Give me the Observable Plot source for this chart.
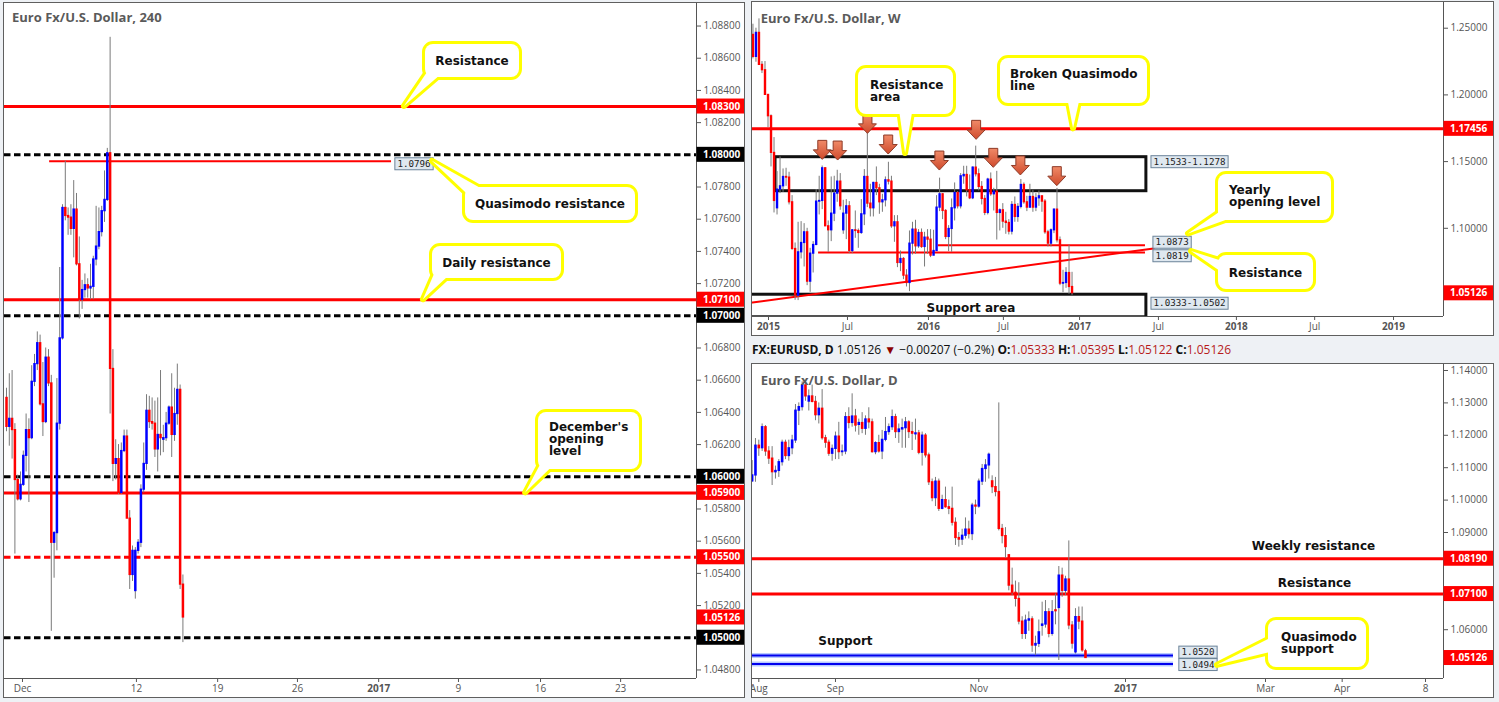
<!DOCTYPE html>
<html>
<head>
<meta charset="utf-8">
<script src="https://cdn.jsdelivr.net/npm/d3@7"></script>
<script src="https://cdn.jsdelivr.net/npm/@observablehq/plot@0.6"></script>
<style>
html,body{margin:0;padding:0;}
body{width:1499px;height:702px;background:#eef1f5;position:relative;overflow:hidden;font-family:'Open Sans',sans-serif;}
.panel{position:absolute;background:#fff;border:1px solid #5f5f5f;overflow:hidden;}
.panel svg{display:block;}
#hdr{position:absolute;left:752px;top:340px;font-size:12px;font-family:'Open Sans',sans-serif;color:#111;white-space:pre;line-height:20px}
#hdr b{font-weight:700}
#hdr .v{color:#b71c1c}
#hdr .dn{color:#8b0000}
</style>
</head>
<body>
<div id="p1" class="panel" style="left:3px;top:2px;width:740px;height:694px"></div>
<div id="p2" class="panel" style="left:751px;top:1px;width:741px;height:333px"></div>
<div id="hdr"></div>
<div id="p3" class="panel" style="left:751px;top:363px;width:741px;height:333px"></div>
<script>
// ===================== DATA =====================
// ---- 4H panel (bar index 0..63, Nov 30 – Dec 15 2016)
const h4Open=[1.0649,1.0631,1.0636,1.0629,1.0598,1.0586,1.0595,1.0613,1.0629,1.0624,
1.0659,1.0670,1.0683,1.0645,1.0634,1.0674,1.0658,1.0559,1.0565,1.0633,
1.0686,1.0767,1.0762,1.0761,1.0754,1.0766,1.0732,1.0710,1.0716,1.0719,
1.0717,1.0718,1.0735,1.0743,1.0752,1.0765,1.0772,1.0801,1.0667,1.0608,
1.0611,1.0590,1.0616,1.0625,1.0574,1.0539,1.0529,1.0554,1.0559,1.0592,
1.0608,1.0641,1.0634,1.0633,1.0617,1.0626,1.0623,1.0624,1.0633,1.0643,
1.0626,1.0639,1.0654,1.0533];
const h4High=[1.0655,1.0664,1.0666,1.0633,1.0601,1.0603,1.0616,1.0639,1.0636,1.0669,
1.0676,1.0690,1.0688,1.0671,1.0680,1.0679,1.0663,1.0566,1.0661,1.0730,
1.0769,1.0796,1.0767,1.0769,1.0784,1.0776,1.0749,1.0722,1.0726,1.0723,
1.0732,1.0737,1.0768,1.0767,1.0768,1.0790,1.0804,1.0873,1.0679,1.0623,
1.0620,1.0621,1.0629,1.0629,1.0579,1.0557,1.0556,1.0561,1.0595,1.0621,
1.0651,1.0650,1.0649,1.0647,1.0649,1.0666,1.0632,1.0640,1.0644,1.0664,
1.0655,1.0670,1.0657,1.0539];
const h4Low=[1.0628,1.0619,1.0611,1.0552,1.0585,1.0585,1.0594,1.0603,1.0584,1.0623,
1.0656,1.0666,1.0644,1.0625,1.0633,1.0656,1.0504,1.0537,1.0554,1.0629,
1.0685,1.0759,1.0750,1.0750,1.0736,1.0731,1.0698,1.0704,1.0711,1.0711,
1.0710,1.0710,1.0731,1.0741,1.0749,1.0758,1.0771,1.0639,1.0597,1.0598,
1.0589,1.0589,1.0615,1.0574,1.0530,1.0535,1.0524,1.0552,1.0556,1.0590,
1.0604,1.0630,1.0629,1.0612,1.0603,1.0613,1.0615,1.0622,1.0632,1.0612,
1.0622,1.0632,1.0530,1.0497];
const h4Close=[1.0631,1.0636,1.0629,1.0598,1.0586,1.0595,1.0613,1.0629,1.0624,1.0659,
1.0670,1.0683,1.0645,1.0634,1.0674,1.0658,1.0559,1.0565,1.0633,1.0686,
1.0767,1.0762,1.0761,1.0754,1.0766,1.0732,1.0710,1.0716,1.0719,1.0717,
1.0718,1.0735,1.0743,1.0752,1.0765,1.0772,1.0801,1.0667,1.0608,1.0611,
1.0590,1.0616,1.0625,1.0574,1.0539,1.0554,1.0554,1.0559,1.0592,1.0608,
1.0641,1.0634,1.0633,1.0617,1.0626,1.0624,1.0624,1.0633,1.0643,1.0626,
1.0639,1.0654,1.0533,1.05126];
const h4TickPos=[5.71,46.4,75.4,103.9,132.9,161.4,190.7,219.3];
const h4TickLabels=["Dec","12","19","26","2017","9","16","23"];
const h4YTicks=[1.048,1.052,1.054,1.056,1.058,1.062,1.064,1.066,1.068,1.072,1.074,1.076,1.078,1.082,1.084,1.086,1.088];
const h4RedLevels=[1.083,1.071,1.059];
const h4RedDashed=[1.055];
const h4BlackDashed=[1.080,1.070,1.060,1.050];
const h4QM=[{y:1.0796,x1:15.4,x2:137.5}];
const h4RedTags=[1.083,1.071,1.059,1.055,1.05126];
const h4BlackTags=[1.080,1.070,1.060,1.050];

// ---- Weekly panel (week index -5..101; 0 = first week of 2015)
const wkOpen=[1.2450,1.2285,1.2465,1.2225,1.2185,1.2000,1.1840,1.1565,1.1150,1.1290,
1.1315,1.1385,1.1380,1.1195,1.0845,1.0495,1.0820,1.0890,1.0970,1.0600,
1.0810,1.0875,1.1200,1.1205,1.1450,1.1015,1.0985,1.1110,1.1260,1.1350,
1.0985,1.1110,1.1165,1.0830,1.0985,1.0980,1.0965,1.1105,1.1385,1.1185,
1.1150,1.1340,1.1300,1.1195,1.1210,1.1360,1.1350,1.1015,1.1045,1.0740,
1.0770,1.0645,1.0590,1.0885,1.0990,1.0865,1.0965,1.0860,1.0930,1.0915,
1.0795,1.0830,1.1155,1.1255,1.1130,1.0935,1.0995,1.1150,1.1265,1.1165,
1.1390,1.1400,1.1285,1.1225,1.1455,1.1405,1.1310,1.1220,1.1115,1.1365,
1.1255,1.1275,1.1115,1.1135,1.1050,1.1040,1.0975,1.1175,1.1085,1.1160,
1.1325,1.1195,1.1155,1.1235,1.1155,1.1225,1.1240,1.1200,1.0970,1.0885,
1.0985,1.1140,1.0910,1.0585,1.0590,1.0665,1.0560];
const wkHigh=[1.2530,1.2500,1.2570,1.2250,1.2250,1.2000,1.1850,1.1680,1.1425,1.1535,
1.1445,1.1450,1.1420,1.1245,1.0890,1.1045,1.1050,1.1035,1.1000,1.0850,
1.0900,1.1290,1.1390,1.1467,1.1455,1.1055,1.1385,1.1390,1.1435,1.1410,
1.1210,1.1215,1.1200,1.0990,1.1130,1.0995,1.1215,1.1440,1.1714,1.1330,
1.1345,1.1460,1.1330,1.1255,1.1385,1.1495,1.1390,1.1095,1.1095,1.0830,
1.0780,1.0690,1.0980,1.1045,1.1060,1.0990,1.0995,1.0970,1.0990,1.0990,
1.0985,1.1245,1.1376,1.1260,1.1140,1.1020,1.1220,1.1340,1.1275,1.1410,
1.1465,1.1465,1.1400,1.1460,1.1616,1.1445,1.1350,1.1245,1.1375,1.1415,
1.1300,1.1427,1.1145,1.1185,1.1120,1.1065,1.1200,1.1235,1.1185,1.1366,
1.1340,1.1240,1.1330,1.1285,1.1260,1.1280,1.1240,1.1215,1.0985,1.0995,
1.1145,1.1299,1.0935,1.0685,1.0705,1.0874,1.0670];
const wkLow=[1.2270,1.2245,1.2220,1.2160,1.2000,1.1755,1.1460,1.1115,1.1100,1.1260,
1.1270,1.1315,1.1175,1.0835,1.0460,1.0458,1.0770,1.0710,1.0570,1.0520,
1.0665,1.0870,1.1100,1.1140,1.1015,1.0820,1.0900,1.1050,1.1195,1.1135,
1.0955,1.0915,1.0810,1.0810,1.0925,1.0850,1.0955,1.1020,1.1155,1.1085,
1.1085,1.1245,1.1105,1.1120,1.1160,1.1325,1.1000,1.0895,1.0705,1.0675,
1.0615,1.0560,1.0525,1.0800,1.0805,1.0850,1.0850,1.0710,1.0805,1.0780,
1.0795,1.0830,1.1125,1.1065,1.0915,1.0825,1.0820,1.1055,1.1145,1.1145,
1.1330,1.1235,1.1215,1.1215,1.1385,1.1280,1.1175,1.1095,1.1100,1.1240,
1.1130,1.0912,1.0980,1.1000,1.0955,1.0950,1.0950,1.1045,1.1045,1.1145,
1.1180,1.1125,1.1150,1.1120,1.1125,1.1165,1.1120,1.0955,1.0860,1.0860,
1.0960,1.0890,1.0570,1.0518,1.0550,1.0505,1.0497];
const wkClose=[1.2285,1.2465,1.2225,1.2185,1.2000,1.1840,1.1565,1.1205,1.1290,1.1315,
1.1385,1.1380,1.1195,1.0845,1.0495,1.0820,1.0890,1.0970,1.0600,1.0810,
1.0875,1.1200,1.1205,1.1450,1.1015,1.0985,1.1110,1.1260,1.1350,1.1165,
1.1110,1.1165,1.0830,1.0985,1.0980,1.0965,1.1105,1.1385,1.1185,1.1150,
1.1340,1.1300,1.1195,1.1210,1.1360,1.1350,1.1015,1.1045,1.0740,1.0770,
1.0645,1.0590,1.0885,1.0990,1.0865,1.0965,1.0860,1.0930,1.0915,1.0795,
1.0830,1.1155,1.1255,1.1130,1.0935,1.0995,1.1150,1.1265,1.1165,1.1390,
1.1400,1.1285,1.1225,1.1455,1.1405,1.1310,1.1220,1.1115,1.1365,1.1255,
1.1275,1.1115,1.1135,1.1050,1.1040,1.0975,1.1175,1.1085,1.1160,1.1325,
1.1195,1.1155,1.1235,1.1155,1.1225,1.1240,1.1200,1.0970,1.0885,1.0985,
1.1140,1.0910,1.0585,1.0590,1.0665,1.0560,1.0513];
const wkFirstIndex=-5;
const wkTickPos=[0.17,26.4,53.3,78.2,103.5,129.7,155.6,181.6,207.8];
const wkTickLabels=["2015","Jul","2016","Jul","2017","Jul","2018","Jul","2019"];
const wkYTicks=[1.10,1.15,1.20,1.25];
const wkBrokenQM=[1.17456];
const wkResZone=[{x1:2.5,x2:125.7,y1:1.1278,y2:1.1533}];
const wkSupZone=[{x1:-8,x2:125.7,y1:1.0333,y2:1.0502}];
const wkShortLevels=[{y:1.0873,x1:56.6,x2:125.4},{y:1.0819,x1:16.8,x2:125.4}];
const wkTrend=[{x:-5.15,y:1.0444},{x:128.1,y:1.0849}];
const wkArrowWeeks=[18.2,23.3,33.2,40.1,57.1,69.3,75.0,84.0,96.1];
const wkArrowPrices=[1.1513,1.1508,1.1708,1.1553,1.1433,1.1663,1.1453,1.1396,1.1316];
const wkRedTags=[1.17456,1.05126];

// ---- Daily panel (trading-day index -2..98; 0 = Aug 1 2016)
const dOpen=[1.1058,1.1076,1.1168,1.1160,1.1225,1.1150,1.1128,1.1086,1.1090,1.1117,
1.1177,1.1136,1.1160,1.1184,1.1276,1.1287,1.1354,1.1304,1.1320,1.1303,
1.1262,1.1282,1.1191,1.1177,1.1143,1.1158,1.1196,1.1148,1.1150,1.1256,
1.1238,1.1258,1.1232,1.1238,1.1220,1.1249,1.1240,1.1148,1.1176,1.1150,
1.1186,1.1210,1.1225,1.1256,1.1210,1.1218,1.1222,1.1240,1.1210,1.1203,
1.1206,1.1146,1.1199,1.1138,1.1055,1.1006,1.1057,1.0973,1.1000,1.0978,
1.0973,1.0930,1.0883,1.0878,1.0890,1.0909,1.0895,1.0983,1.0980,1.1057,
1.1096,1.1107,1.1058,1.1040,1.1025,1.0911,1.0889,1.0830,1.0736,1.0714,
1.0695,1.0625,1.0587,1.0628,1.0632,1.0551,1.0556,1.0612,1.0616,1.0654,
1.0587,1.0660,1.0667,1.0767,1.0720,1.0755,1.0613,1.0530,1.0639,1.0625,
1.05333];
const dHigh=[1.1122,1.1190,1.1185,1.1235,1.1230,1.1165,1.1165,1.1105,1.1125,1.1185,
1.1185,1.1185,1.1200,1.1295,1.1300,1.1365,1.1366,1.1340,1.1355,1.1320,
1.1300,1.1341,1.1200,1.1185,1.1170,1.1210,1.1240,1.1170,1.1270,1.1285,
1.1328,1.1280,1.1250,1.1270,1.1260,1.1285,1.1250,1.1180,1.1200,1.1215,
1.1255,1.1235,1.1278,1.1265,1.1235,1.1250,1.1255,1.1245,1.1240,1.1250,
1.1215,1.1210,1.1205,1.1145,1.1065,1.1070,1.1065,1.1015,1.1040,1.1000,
1.1040,1.0945,1.0900,1.0910,1.0945,1.0935,1.0990,1.1000,1.1065,1.1110,
1.1125,1.1145,1.1075,1.1070,1.1300,1.0925,1.0915,1.0830,1.0790,1.0750,
1.0745,1.0640,1.0645,1.0655,1.0640,1.0580,1.0630,1.0685,1.0690,1.0665,
1.0690,1.0710,1.0795,1.0790,1.0765,1.0874,1.0625,1.0665,1.0670,1.0670,
1.05395];
const dLow=[1.1055,1.1055,1.1135,1.1150,1.1135,1.1110,1.1045,1.1065,1.1070,1.1105,
1.1125,1.1120,1.1140,1.1175,1.1230,1.1275,1.1305,1.1275,1.1300,1.1245,
1.1235,1.1185,1.1160,1.1135,1.1120,1.1125,1.1125,1.1135,1.1140,1.1220,
1.1225,1.1210,1.1200,1.1205,1.1200,1.1220,1.1145,1.1140,1.1145,1.1125,
1.1180,1.1200,1.1215,1.1190,1.1175,1.1160,1.1160,1.1190,1.1153,1.1185,
1.1140,1.1105,1.1130,1.1045,1.0995,1.0980,1.0965,1.0970,1.0975,1.0955,
1.0920,1.0860,1.0855,1.0860,1.0880,1.0880,1.0875,1.0955,1.0975,1.1045,
1.1055,1.1065,1.1020,1.1010,1.0905,1.0865,1.0820,1.0720,1.0705,1.0670,
1.0615,1.0570,1.0570,1.0595,1.0530,1.0520,1.0545,1.0580,1.0605,1.0575,
1.0580,1.0615,1.0505,1.0700,1.0705,1.0600,1.0540,1.0525,1.0600,1.0530,
1.05122];
const dClose=[1.1076,1.1168,1.1160,1.1225,1.1150,1.1128,1.1086,1.1090,1.1117,1.1177,
1.1136,1.1160,1.1184,1.1276,1.1287,1.1354,1.1320,1.1320,1.1303,1.1262,
1.1282,1.1191,1.1177,1.1143,1.1158,1.1196,1.1148,1.1150,1.1256,1.1238,
1.1258,1.1230,1.1238,1.1220,1.1249,1.1240,1.1148,1.1176,1.1150,1.1186,
1.1210,1.1225,1.1256,1.1210,1.1218,1.1222,1.1240,1.1210,1.1205,1.1206,
1.1146,1.1199,1.1138,1.1055,1.1006,1.1057,1.0973,1.1000,1.0978,1.0973,
1.0930,1.0883,1.0878,1.0890,1.0909,1.0895,1.0983,1.0980,1.1057,1.1096,
1.1107,1.1140,1.1040,1.1025,1.0911,1.0889,1.0855,1.0736,1.0714,1.0695,
1.0625,1.0587,1.0628,1.0632,1.0551,1.0556,1.0592,1.0616,1.0654,1.0587,
1.0654,1.0657,1.0767,1.0720,1.0755,1.0613,1.0557,1.0639,1.0625,1.0536,
1.05126];
const dFirstIndex=-2;
const dTickPos=[0,23,66,110,152,175,200];
const dTickLabels=["Aug","Sep","Nov","2017","Mar","Apr","8"];
const dYTicks=[1.06,1.09,1.10,1.11,1.12,1.13,1.14];
const dRedLevels=[1.0819,1.071];
const dBlueLevels=[{y:1.0520,x1:-8,x2:124.4},{y:1.0494,x1:-8,x2:124.4}];
const dRedTags=[1.0819,1.071,1.05126];

// header values
const hdrSymbol="FX:EURUSD, D", hdrLast="1.05126", hdrChg="\u22120.00207 (\u22120.2%)";
const hdrOHLC=[["O:","1.05333"],["H:","1.05395"],["L:","1.05122"],["C:","1.05126"]];

// ===================== HELPERS =====================
const fmt5=d3.format(".5f");
const calloutFont="'DejaVu Sans', Verdana, sans-serif";
function candles(O,H,L,C,first){return O.map((o,i)=>({x:i+first,o,h:H[i],l:L[i],c:C[i]}));}

function panel(el,cfg){
  const lab=new Map(cfg.xTickPos.map((p,i)=>[p,cfg.xTickLab[i]]));
  const data=cfg.data;
  const up=data.filter(d=>d.c>=d.o), dn=data.filter(d=>d.c<d.o);
  const plot=Plot.plot({
    width:cfg.width,height:cfg.height,
    marginLeft:0,marginTop:0,marginRight:cfg.mr,marginBottom:cfg.mb,
    style:{fontFamily:"'Open Sans', sans-serif",fontSize:"10px",color:"#555",background:"#fff"},
    x:{domain:cfg.xDomain,axis:"bottom",ticks:cfg.xTickPos,tickFormat:d=>lab.has(d)?lab.get(d):"",tickSize:4,tickPadding:2,label:null},
    y:{domain:cfg.yDomain,axis:"right",ticks:cfg.yTicks,tickFormat:fmt5,tickSize:4,tickPadding:3,label:null},
    marks:[
      ...(cfg.under||[]),
      Plot.ruleX(data,{x:"x",y1:"l",y2:"h",stroke:"#7a7a7a",strokeWidth:1,clip:true}),
      Plot.ruleX(up,{x:"x",y1:"c",y2:"o",stroke:"#0000ff",strokeWidth:cfg.bw,insetTop:-0.6,insetBottom:-0.6,clip:true}),
      Plot.ruleX(dn,{x:"x",y1:"o",y2:"c",stroke:"#ff0000",strokeWidth:cfg.bw,insetTop:-0.6,insetBottom:-0.6,clip:true}),
      ...(cfg.over||[]),
      Plot.ruleX([cfg.xDomain[1]],{stroke:"#555",strokeWidth:1}),
      Plot.ruleY([cfg.yDomain[0]],{stroke:"#555",strokeWidth:1})
    ]
  });
  el.appendChild(plot);
  const svg=d3.select(plot);
  svg.selectAll("text").filter(function(){return /^\d{4}$/.test(this.textContent);}).attr("font-weight","bold");
  return plot;
}

function tags(plot,cfg,list,color){
  const sy=plot.scale("y").apply, svg=d3.select(plot);
  const x0=cfg.width-cfg.mr;
  list.forEach(p=>{
    const y=sy(p);
    svg.append("rect").attr("x",x0+0.5).attr("y",y-7.5).attr("width",cfg.mr).attr("height",15).attr("fill",color);
    svg.append("text").attr("x",x0+7).attr("y",y).attr("dy","0.36em").attr("fill","#fff").attr("text-anchor","start")
      .attr("font-weight","bold").attr("font-size","10px").attr("font-family","'Open Sans', sans-serif").text(fmt5(p));
  });
}

function title(plot,txt,x,y){
  d3.select(plot).append("text").attr("x",x).attr("y",y).attr("fill","#5a5a5a").attr("text-anchor","start")
    .attr("font-family","'Open Sans', sans-serif").attr("font-weight","bold").attr("font-size","13px").text(txt);
}

function valBox(plot,b){
  const sx=plot.scale("x").apply, sy=plot.scale("y").apply, svg=d3.select(plot);
  const w=b.text.length*5.55+5, h=12, cx=sx(b.x), cy=sy(b.y)+b.dy;
  svg.append("rect").attr("x",cx-w/2).attr("y",cy-h/2).attr("width",w).attr("height",h)
    .attr("fill","#dfe8f0").attr("stroke","#6b8399").attr("stroke-width",1);
  svg.append("text").attr("x",cx).attr("y",cy).attr("dy","0.35em").attr("text-anchor","middle")
    .attr("font-family","'DejaVu Sans Mono', monospace").attr("font-size","9.2px").attr("fill","#222").text(b.text);
}

function callout(plot,c){
  const sx=plot.scale("x").apply, sy=plot.scale("y").apply, svg=d3.select(plot);
  const [x0,y0,x1,y1]=c.box;
  const tx=sx(c.tip[0]), ty=sy(c.tip[1]);
  const cx=(x0+x1)/2, cy=(y0+y1)/2;
  const b=c.base.map(([bx,by])=>{const dx=cx-bx,dy=cy-by,l=Math.hypot(dx,dy);return [bx+dx/l*6,by+dy/l*6];});
  const tri=`M${b[0][0]},${b[0][1]}L${tx},${ty}L${b[1][0]},${b[1][1]}Z`;
  const g=svg.append("g");
  g.append("path").attr("d",tri).attr("fill","#fff").attr("stroke","#ffff00").attr("stroke-width",6).attr("stroke-linejoin","round");
  g.append("rect").attr("x",x0).attr("y",y0).attr("width",x1-x0).attr("height",y1-y0).attr("rx",8)
    .attr("fill","#fff").attr("stroke","#ffff00").attr("stroke-width",6);
  g.append("path").attr("d",tri).attr("fill","#fff");
  g.append("rect").attr("x",x0).attr("y",y0).attr("width",x1-x0).attr("height",y1-y0).attr("rx",8).attr("fill","#fff");
  c.lines.forEach((t,i)=>{
    const centered=c.tx==null;
    g.append("text").attr("x",centered?cx:c.tx).attr("y",centered?cy+4.5:c.base0+i*12)
      .attr("text-anchor",centered?"middle":"start")
      .attr("font-family",calloutFont).attr("font-weight","bold").attr("font-size","12px").attr("fill","#111").text(t);
  });
}

const txtOpts={fontFamily:calloutFont,fontWeight:"bold",fontSize:12,fill:"#111"};

// ===================== PANEL 1 : 4H =====================
const cfg1={width:740,height:694,mr:48,mb:19,xDomain:[-0.714,246.4],yDomain:[1.04747,1.08940],
  data:candles(h4Open,h4High,h4Low,h4Close,0),bw:2.5,yTicks:h4YTicks,xTickPos:h4TickPos,xTickLab:h4TickLabels,
  under:[
    Plot.ruleY(h4RedLevels,{stroke:"#ff0000",strokeWidth:3}),
    Plot.ruleY(h4BlackDashed,{stroke:"#000",strokeWidth:3,strokeDasharray:"6.5,3.5"}),
    Plot.ruleY(h4RedDashed,{stroke:"#ff0000",strokeWidth:3,strokeDasharray:"6.5,3.5"}),
    Plot.ruleY(h4QM,{y:"y",x1:"x1",x2:"x2",stroke:"#ff0000",strokeWidth:2})
  ]};
const plot1=panel(document.getElementById("p1"),cfg1);
tags(plot1,cfg1,h4BlackTags,"#000");
tags(plot1,cfg1,h4RedTags,"#ff0000");
valBox(plot1,{x:145.7,y:1.0796,dy:3,text:"1.0796"});
callout(plot1,{box:[421,41,515,74],tip:[142.1,1.083],base:[[421,64],[431,74]],lines:["Resistance"]});
callout(plot1,{box:[461,184,631,217],tip:[152.1,1.0796],base:[[471,184],[461,194]],lines:["Quasimodo resistance"]});
callout(plot1,{box:[428,243,557,275],tip:[148.9,1.071],base:[[428,262],[438,275]],lines:["Daily resistance"]});
callout(plot1,{box:[534,409,635,466],tip:[185.4,1.059],base:[[534,457],[544,466]],lines:["December's","opening","level"],tx:545,base0:428});
title(plot1,"Euro Fx/U.S. Dollar, 240",8,19);

// ===================== PANEL 2 : Weekly =====================
const cfg2={width:741,height:333,mr:50,mb:19,xDomain:[-5.15,224.4],yDomain:[1.03388,1.26927],
  data:candles(wkOpen,wkHigh,wkLow,wkClose,wkFirstIndex),bw:2.4,yTicks:wkYTicks,xTickPos:wkTickPos,xTickLab:wkTickLabels,
  under:[
    Plot.ruleY(wkBrokenQM,{stroke:"#ff0000",strokeWidth:3}),
    Plot.rect(wkResZone,{x1:"x1",x2:"x2",y1:"y1",y2:"y2",fill:"none",stroke:"#111",strokeWidth:3}),
    Plot.rect(wkSupZone,{x1:"x1",x2:"x2",y1:"y1",y2:"y2",fill:"none",stroke:"#111",strokeWidth:3,clip:true}),
    Plot.ruleY(wkShortLevels,{y:"y",x1:"x1",x2:"x2",stroke:"#ff0000",strokeWidth:2}),
    Plot.line(wkTrend,{x:"x",y:"y",stroke:"#ff0000",strokeWidth:2,clip:true})
  ],
  over:[
    Plot.text(["Support area"],{x:67.4,y:1.0502,dy:13,text:d=>d,...txtOpts})
  ]};
const plot2=panel(document.getElementById("p2"),cfg2);
tags(plot2,cfg2,wkRedTags,"#ff0000");
{
  const svg=d3.select(plot2), sx=plot2.scale("x").apply, sy=plot2.scale("y").apply;
  const grad=svg.append("defs").append("linearGradient").attr("id","arrGrad").attr("x1",0).attr("y1",0).attr("x2",0).attr("y2",1);
  grad.append("stop").attr("offset","0%").attr("stop-color","#f08a68");
  grad.append("stop").attr("offset","100%").attr("stop-color","#cf4a2c");
  wkArrowWeeks.forEach((w,i)=>{
    svg.append("path").attr("transform",`translate(${sx(w)},${sy(wkArrowPrices[i])})`)
      .attr("d","M-4.5,-19H4.5V-9.5H9L0,0L-9,-9.5H-4.5Z").attr("fill","url(#arrGrad)")
      .attr("stroke","#8e3b28").attr("stroke-width",1).attr("stroke-linejoin","round");
  });
}
valBox(plot2,{x:140.2,y:1.1533,dy:5,text:"1.1533-1.1278"});
valBox(plot2,{x:140.2,y:1.0502,dy:9,text:"1.0333-1.0502"});
valBox(plot2,{x:134.4,y:1.0873,dy:-2.5,text:"1.0873"});
valBox(plot2,{x:134.4,y:1.0819,dy:3.8,text:"1.0819"});
callout(plot2,{box:[106,66,201,112],tip:[45.7,1.1561],base:[[144.7,112],[163,112]],lines:["Resistance","area"],tx:118,base0:87});
callout(plot2,{box:[248,56,395,101],tip:[101.5,1.17456],base:[[313,101],[330,101]],lines:["Broken Quasimodo","line"],tx:258,base0:76});
callout(plot2,{box:[466,172,579,218],tip:[139.7,1.0958],base:[[466,208],[475,218]],lines:["Yearly","opening level"],tx:477,base0:192});
callout(plot2,{box:[466,253,561,287],tip:[140.7,1.0826],base:[[466,258],[466,272]],lines:["Resistance"]});
title(plot2,"Euro Fx/U.S. Dollar, W",8.7,21);

// ===================== HEADER =====================
{
  const h=document.getElementById("hdr");
  let html=`<b>${hdrSymbol}</b> ${hdrLast} <span class="dn">\u25BC</span> ${hdrChg} `;
  html+=hdrOHLC.map(([k,v])=>`<b>${k}</b><span class="v">${v}</span>`).join(" ");
  h.innerHTML=html;
}

// ===================== PANEL 3 : Daily =====================
const cfg3={width:741,height:333,mr:50,mb:19,xDomain:[-1.89,205.4],yDomain:[1.04494,1.14185],
  data:candles(dOpen,dHigh,dLow,dClose,dFirstIndex),bw:2.6,yTicks:dYTicks,xTickPos:dTickPos,xTickLab:dTickLabels,
  under:[
    Plot.ruleY(dRedLevels,{stroke:"#ff0000",strokeWidth:3}),
    Plot.ruleY(dBlueLevels,{y:"y",x1:"x1",x2:"x2",stroke:"#b7c9ff",strokeWidth:5,clip:true}),
    Plot.ruleY(dBlueLevels,{y:"y",x1:"x1",x2:"x2",stroke:"#0000ee",strokeWidth:2,clip:true})
  ],
  over:[
    Plot.text(["Weekly resistance"],{x:166.4,y:1.0819,dy:-12.5,text:d=>d,...txtOpts}),
    Plot.text(["Resistance"],{x:166.7,y:1.071,dy:-11,text:d=>d,...txtOpts}),
    Plot.text(["Support"],{x:26,y:1.0520,dy:-14.5,text:d=>d,...txtOpts})
  ]};
const plot3=panel(document.getElementById("p3"),cfg3);
tags(plot3,cfg3,dRedTags,"#ff0000");
valBox(plot3,{x:131.9,y:1.0520,dy:-3,text:"1.0520"});
valBox(plot3,{x:131.9,y:1.0494,dy:1,text:"1.0494"});
callout(plot3,{box:[516,256,614,303],tip:[137.6,1.0490],base:[[516,271],[516,288]],lines:["Quasimodo","support"],tx:529,base0:277});
title(plot3,"Euro Fx/U.S. Dollar, D",8.7,21);
</script>
</body>
</html>
